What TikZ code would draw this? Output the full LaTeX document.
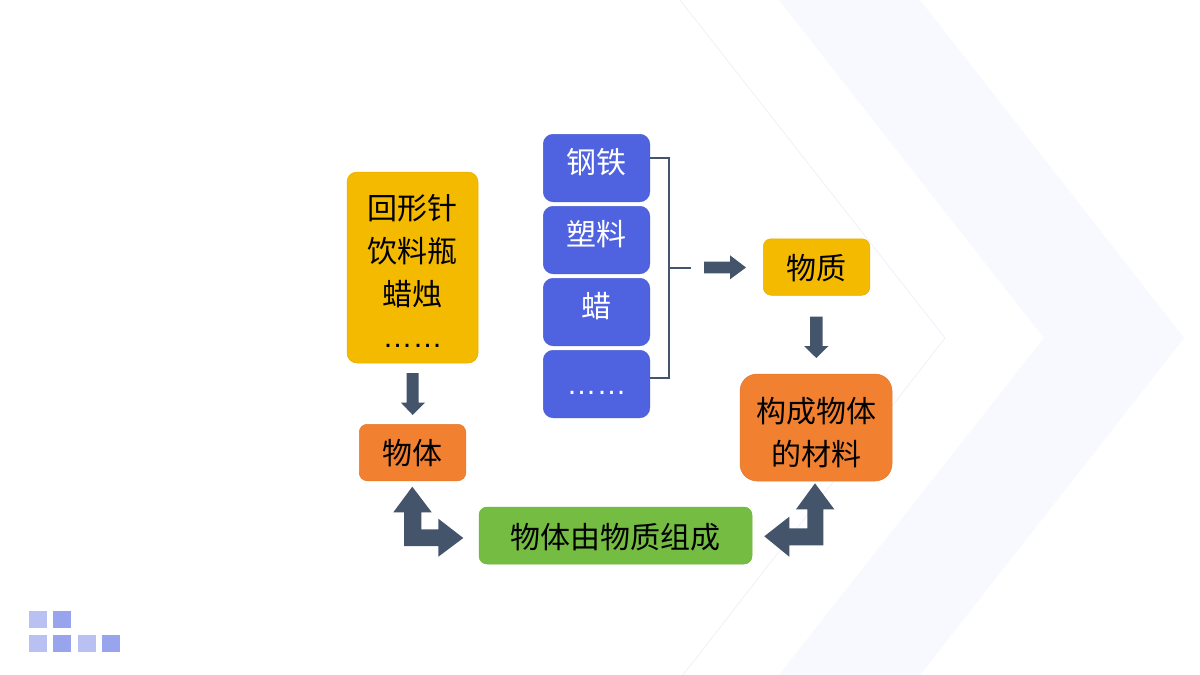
\documentclass[tikz,border=0pt]{standalone}
\usepackage{fontspec}
\setmainfont{Noto Sans CJK SC}
\newfontfamily\dotfont{Liberation Sans}
\newcommand{\lowered}[2]{\raisebox{-#1}[\height][\depth]{#2}}
\newcommand{\lifted}[2]{\raisebox{#1}[\height][\depth]{#2}}
\tikzset{
  box/.style={draw=#1!94!black, line width=0.5pt, fill=#1, rounded corners=10pt, inner sep=0pt, align=center, text=black, font=\fontsize{30}{43}\selectfont},
  bluebox/.style={box=cblue, text=white, minimum width=106.5pt, minimum height=67.5pt},
  wide/.style={minimum width=106.5pt, minimum height=56.5pt},
  link/.style={draw=carrow, line width=2pt},
  blockarrow/.style={fill=carrow, draw=none},
  chev/.style={fill=cchev, draw=none},
  sqa/.style={fill=csqa, draw=none},
  sqb/.style={fill=csqb, draw=none}
}
\definecolor{cblue}{HTML}{4F62E0}
\definecolor{cyellow}{HTML}{F4BA00}
\definecolor{corange}{HTML}{F18130}
\definecolor{cgreen}{HTML}{75BD42}
\definecolor{carrow}{HTML}{44546A}
\definecolor{cchev}{HTML}{F8F9FE}
\definecolor{cline}{HTML}{EEF0FA}
\definecolor{csqa}{HTML}{B9C1F2}
\definecolor{csqb}{HTML}{98A4EE}
\begin{document}
\begin{tikzpicture}[x=1pt,y=-1pt]
\useasboundingbox (0,0) rectangle (1200,675);
\fill[white] (0,0) rectangle (1200,675);
% background
\fill[chev] (779,0) -- (920,0) -- (1184,338) -- (920,675) -- (779,675) -- (1044,338) -- cycle;
\draw[cline, line width=0.7pt] (680,0) -- (945,338) -- (683,675);
\foreach \x/\y/\s in {29/610.5/sqa,53.3/610.5/sqb,29/634.5/sqa,53.3/634.5/sqb,78/634.5/sqa,102/634.5/sqb}
  \fill[\s] (\x,\y) rectangle ++(17.7,17.5);
% nodes
\node[box=cyellow, minimum width=131pt, minimum height=191pt] (items) at (412.5,267.5)
  {\lowered{4pt}{回形针}\\\lowered{4pt}{饮料瓶}\\\lowered{4pt}{蜡烛}\\\lowered{3pt}{\dotfont ……}};
\node[bluebox] (steel) at (596.5,168) {\lifted{5.5pt}{钢铁}};
\node[bluebox] (plastic) at (596.5,240) {\lifted{5.5pt}{塑料}};
\node[bluebox] (wax) at (596.5,312) {\lifted{5.5pt}{蜡}};
\node[bluebox] (more) at (596.5,384) {\lowered{9pt}{\dotfont ……}};
\node[box=cyellow, wide, rounded corners=8pt] (matter) at (816.5,267) {\lowered{1pt}{物质}};
\node[box=corange, wide, rounded corners=8pt] (object) at (412.5,452.5) {\lowered{1pt}{物体}};
\node[box=corange, minimum width=152pt, minimum height=107pt, rounded corners=17pt] (material) at (816,427.5) {\lowered{5pt}{构成物体}\\\lowered{5pt}{的材料}};
\node[box=cgreen, minimum width=273pt, minimum height=57pt, rounded corners=8pt] (fact) at (615.5,535.5) {\lowered{1.5pt}{物体由物质组成}};
% bracket
\coordinate (stub) at (691,267.5);
\coordinate (spine) at (669,267.5);
\draw[link] ([yshift=10pt]steel.east) -| (spine) |- ([yshift=6pt]more.east);
\draw[link] (spine) -- (stub);
% block arrows
\fill[blockarrow] (406.7,373) -- (418.7,373) -- (418.7,402.7) -- (425,402.7) -- (412.7,415) -- (401,402.7) -- (406.7,402.7) -- cycle;
\fill[blockarrow] (704,261.7) -- (730,261.7) -- (730,255.3) -- (746,267.5) -- (730,279.3) -- (730,273.3) -- (704,273.3) -- cycle;
\fill[blockarrow] (810,316.7) -- (822.7,316.7) -- (822.7,346) -- (828.5,346) -- (816.3,358) -- (804,346) -- (810,346) -- cycle;
\fill[blockarrow] (412.3,486.7) -- (431.7,512.3) -- (421.3,512.3) -- (421.3,529.3) -- (438.3,529.3) -- (438.3,518.7) -- (463.3,538) -- (438.3,556.7) -- (438.3,546) -- (404,546) -- (404,512.3) -- (393.3,512.3) -- cycle;
\fill[blockarrow] (815,483.3) -- (834.3,509.3) -- (823.3,509.3) -- (823.3,545.3) -- (789.3,545.3) -- (789.3,556.7) -- (764.3,536.3) -- (789.3,516.7) -- (789.3,528.3) -- (807.3,528.3) -- (807.3,509.3) -- (796,509.3) -- cycle;
\end{tikzpicture}
\end{document}
